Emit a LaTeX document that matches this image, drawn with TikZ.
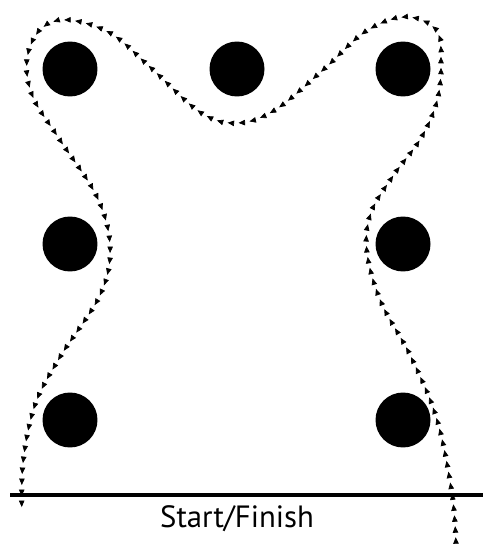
\documentclass[tikz,border=0pt]{standalone}
\usepackage{fontspec}
\setmainfont{PT Sans}
\usepackage{tikz}
\usetikzlibrary{arrows.meta,decorations.markings}

\begin{document}
\begin{tikzpicture}[
    x=0.02cm, y=-0.02cm,
    cone/.style={circle, fill=black, minimum size=1.1cm, inner sep=0pt},
    route/.style={draw=none, postaction={decorate},
      decoration={markings, mark=between positions 0.005 and 0.995 step 0.22cm with {\arrow{Triangle[length=1.3mm, width=1.1mm]}}}},
  ]
    \useasboundingbox (0,0) rectangle (490,550);

    % Cones
    \node[cone] (tl) at (70,69) {};
    \node[cone] (tc) at (237,69) {};
    \node[cone] (tr) at (403,69) {};
    \node[cone] (ml) at (70,244) {};
    \node[cone] (mr) at (403,244) {};
    \node[cone] (bl) at (70,420) {};
    \node[cone] (br) at (403,420) {};

    % Start/finish line
    \coordinate (lineL) at (10,495);
    \coordinate (lineR) at (483,495);
    \draw[line width=2.4pt] (lineL) -- (lineR);
    \node[font=\fontsize{17.5}{20}\selectfont] (label) at (237,519) {Start/Finish};

    % Route around the cones
    \path[route] plot[smooth, tension=0.6] coordinates {
      (456,545) (452,494) (437,420) (411,357) (381,302) (367,252) (371,213)
      (393,176) (421,138) (437,101) (441,63) (436,30) (405,17) (365,32) (323,70)
      (275,110) (237,123) (200,112) (150,67) (110,33) (67,20) (40,30)
      (27,60) (33,97) (60,140) (97,197) (110,247) (100,295) (60,357)
      (35,405) (23,463) (22,520)};

  \end{tikzpicture}
\end{document}
